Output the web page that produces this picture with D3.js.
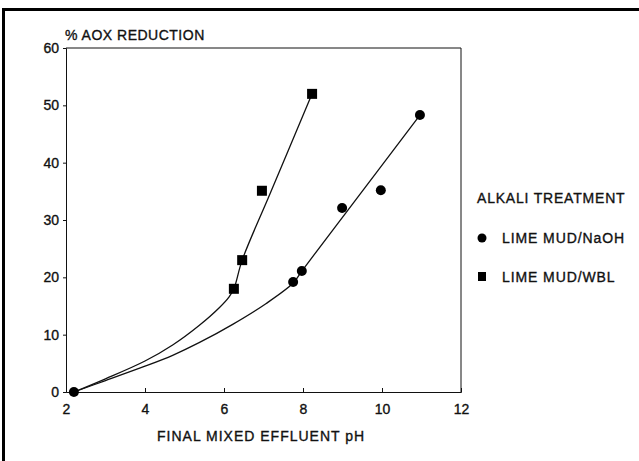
<!DOCTYPE html>
<meta charset="utf-8">
<script src="https://d3js.org/d3.v7.min.js"></script>
<style>
  body { margin: 0; background: #fff; }
  svg text { font-family: "Liberation Sans", Arial, sans-serif; fill: #111; stroke: #111; stroke-width: 0.35px; }
</style>
<svg id="chart" width="639" height="461"></svg>
<script>

// measured points
var naohPH  = [2.2, 7.75, 7.97, 8.99, 9.97, 10.96];
var naohAOX = [0, 19.2, 21.1, 32.1, 35.2, 48.3];
var wblPH   = [6.25, 6.46, 6.96, 8.23];
var wblAOX  = [18, 23, 35.1, 52];

// fitted curves as drawn in the figure
var naohFitPH  = [2.2, 3.0, 4.0, 4.7, 5.37, 6.22, 7.06, 7.75, 7.97, 9.09, 10.96];
var naohFitAOX = [0, 2.0, 4.5, 6.4, 8.6, 11.8, 15.4, 19.0, 21.1, 31.3, 48.3];
var wblFitPH   = [2.2, 3.0, 4.0, 4.7, 5.37, 5.88, 6.13, 6.25, 6.46, 7.16, 8.23];
var wblFitAOX  = [0, 2.3, 5.4, 8.2, 11.6, 14.7, 16.6, 18, 23, 34.5, 52];

var xTicks = [2, 4, 6, 8, 10, 12];
var yTicks = [0, 10, 20, 30, 40, 50, 60];

var margin = {top: 48, left: 66},
    width = 395,
    height = 344;

var svg = d3.select("#chart");

// page frame (thick left & top border)
svg.append("line").attr("x1", 3.5).attr("x2", 3.5).attr("y1", 8).attr("y2", 461)
  .attr("stroke", "#000").attr("stroke-width", 3);
svg.append("line").attr("x1", 2).attr("x2", 639).attr("y1", 9.5).attr("y2", 9.5)
  .attr("stroke", "#000").attr("stroke-width", 3);

var g = svg.append("g")
  .attr("transform", "translate(" + margin.left + "," + margin.top + ")");

var x = d3.scaleLinear().domain([2, 12]).range([0, width]);
var y = d3.scaleLinear().domain([0, 60]).range([height, 0]);

// X axis
var xAxis = g.append("g")
  .attr("transform", "translate(0," + height + ")")
  .call(d3.axisBottom(x).tickValues(xTicks).tickSize(-4).tickPadding(12));
xAxis.selectAll("text").style("font-size", "14px");

// Y axis
var yAxis = g.append("g")
  .call(d3.axisLeft(y).tickValues(yTicks).tickSize(3).tickPadding(4));
yAxis.selectAll("text").style("font-size", "14px");

g.selectAll(".domain").attr("stroke", "#111");
g.selectAll(".tick line").attr("stroke", "#111");

// top and right frame of the plot
g.append("line").attr("x1", 0).attr("x2", width).attr("y1", 0).attr("y2", 0).attr("stroke", "#111");
g.append("line").attr("x1", width).attr("x2", width).attr("y1", 0).attr("y2", height).attr("stroke", "#111");

// curves
var line = d3.line()
  .x(function(d) { return x(d[0]); })
  .y(function(d) { return y(d[1]); })
  .curve(d3.curveCatmullRom.alpha(0.5));

g.append("path")
  .datum(d3.zip(naohFitPH, naohFitAOX))
  .attr("d", line)
  .attr("fill", "none").attr("stroke", "#111").attr("stroke-width", 1.3);

g.append("path")
  .datum(d3.zip(wblFitPH, wblFitAOX))
  .attr("d", line)
  .attr("fill", "none").attr("stroke", "#111").attr("stroke-width", 1.3);

// markers
g.selectAll("circle.naoh")
  .data(d3.zip(naohPH, naohAOX))
  .enter().append("circle")
    .attr("cx", function(d) { return x(d[0]); })
    .attr("cy", function(d) { return y(d[1]); })
    .attr("r", 5)
    .attr("fill", "#000");

var sq = 10;
g.selectAll("rect.wbl")
  .data(d3.zip(wblPH, wblAOX))
  .enter().append("rect")
    .attr("x", function(d) { return x(d[0]) - sq/2; })
    .attr("y", function(d) { return y(d[1]) - sq/2; })
    .attr("width", sq)
    .attr("height", sq)
    .attr("fill", "#000");

// titles
svg.append("text")
  .attr("x", 65).attr("y", 40)
  .style("font-size", "14px").style("letter-spacing", "0.5px")
  .text("% AOX REDUCTION");

svg.append("text")
  .attr("x", 157).attr("y", 441)
  .style("font-size", "14px").style("letter-spacing", "1px")
  .text("FINAL MIXED EFFLUENT pH");

// legend
svg.append("text")
  .attr("x", 477).attr("y", 203)
  .style("font-size", "14px").style("letter-spacing", "0.8px")
  .text("ALKALI TREATMENT");

var keys = ["LIME MUD/NaOH", "LIME MUD/WBL"];
keys.forEach(function(k, i) {
  var cy = 238 + i * 39;
  if (i == 0) {
    svg.append("circle").attr("cx", 482).attr("cy", cy).attr("r", 4.5).attr("fill", "#000");
  } else {
    svg.append("rect").attr("x", 478).attr("y", cy - 5).attr("width", 8).attr("height", 9).attr("fill", "#000");
  }
  svg.append("text")
    .attr("x", 502).attr("y", cy + 5)
    .style("font-size", "14px").style("letter-spacing", "0.9px")
    .text(k);
});

</script>
